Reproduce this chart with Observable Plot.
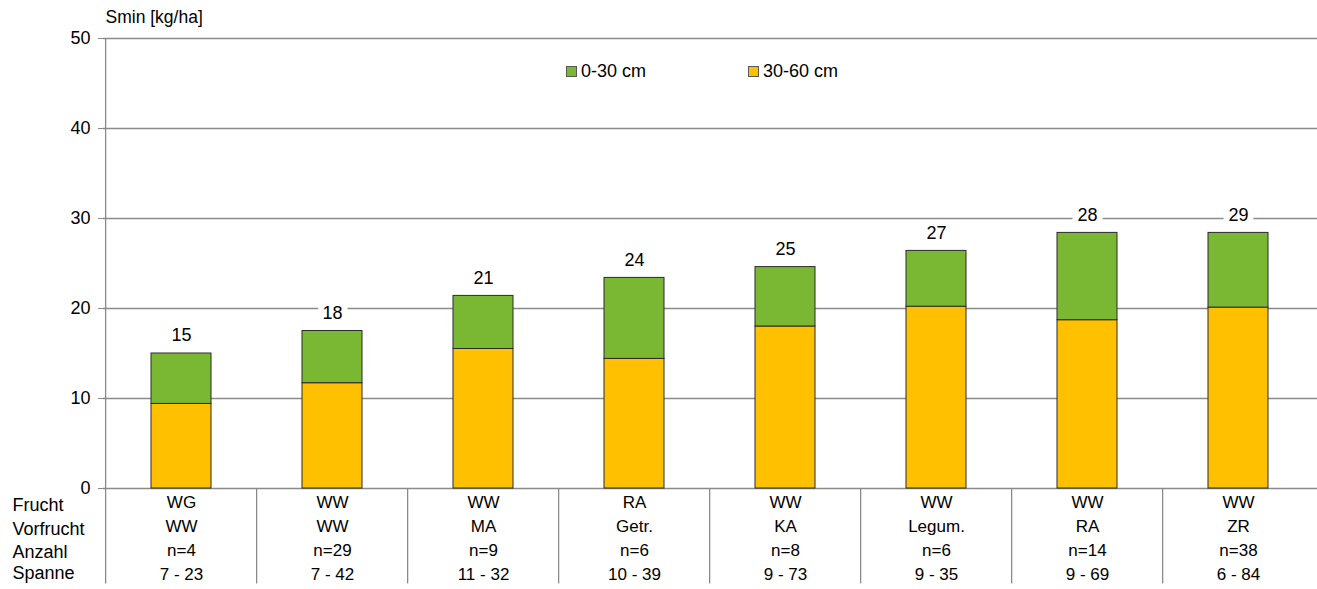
<!DOCTYPE html>
<html><head><meta charset="utf-8">
<script src="https://cdn.jsdelivr.net/npm/d3@7"></script>
<script src="https://cdn.jsdelivr.net/npm/@observablehq/plot@0.6"></script>
<style>
body{margin:0;background:#fff;font-family:"Liberation Sans",Arial,sans-serif;}
#wrap{position:relative;width:1317px;height:589px;overflow:hidden;}
.legend{position:absolute;top:62px;display:flex;align-items:center;font-size:18px;color:#000;line-height:18px;}
.sw{width:9px;height:9px;border:1px solid #595959;margin-right:4px;}
</style></head><body><div id="wrap"></div>
<script>
// categories (Frucht / Vorfrucht)
const categories = ["WG/WW","WW/WW","WW/MA","RA/Getr.","WW/KA","WW/Legum.","WW/RA","WW/ZR"];
const frucht = ["WG","WW","WW","RA","WW","WW","WW","WW"];
const vorfrucht = ["WW","WW","MA","Getr.","KA","Legum.","RA","ZR"];
const anzahl = ["n=4","n=29","n=9","n=6","n=8","n=6","n=14","n=38"];
const spanne = ["7 - 23","7 - 42","11 - 32","10 - 39","9 - 73","9 - 35","9 - 69","6 - 84"];
// series values (kg/ha)
const layer3060 = [9.4, 11.7, 15.5, 14.4, 18.0, 20.2, 18.7, 20.1];
const layer030 = [5.6, 5.8, 5.9, 9.0, 6.6, 6.2, 9.7, 8.3];
const totalLabels = ["15","18","21","24","25","27","28","29"];
const rowLabels = ["Frucht","Vorfrucht","Anzahl","Spanne"];
const yTicks = [0,10,20,30,40,50];
const seriesNames = ["0-30 cm","30-60 cm"];
const seriesColors = ["#7AB733","#FFC000"];
const yLabel = "Smin [kg/ha]";

const W=1317,H=589,ML=103,MR=0,MT=38,MB=101;
const step=(W-ML-MR)/categories.length;
const grid="#8a8a8a";
const long = categories.flatMap((c,i)=>[
  {cat:c,series:"30-60 cm",v:layer3060[i]},
  {cat:c,series:"0-30 cm",v:layer030[i]}]);
const totals = categories.map((c,i)=>({cat:c,total:layer3060[i]+layer030[i],label:totalLabels[i]}));
const font='"Liberation Sans", Arial, sans-serif';
const tableRows=[frucht,vorfrucht,anzahl,spanne];
const rowLabelDy=[22,46,69,90];

const marks=[
  Plot.gridY(yTicks,{stroke:grid,strokeOpacity:1,strokeWidth:1.3}),
  Plot.axisY(yTicks,{tickSize:5,tickPadding:8,stroke:grid,fill:"#000",fontSize:18,tickFormat:d=>String(d),label:null}),
  Plot.ruleX(categories,{x:d=>d,dx:-step/2,y1:-10.6,y2:(d,i)=>i===0?50:0,stroke:grid,strokeWidth:1.3}),
  Plot.barY(long,{x:"cat",y:"v",fill:"series",stroke:"#2b2b2b",strokeWidth:1}),
  Plot.text(totals,{x:"cat",y:"total",text:"label",dy:-18,fontSize:18,fill:"#000",stroke:"white",strokeWidth:12}),
  Plot.text([yLabel],{frameAnchor:"top-left",dx:2,dy:-28,fontSize:17.5,fill:"#000"}),
  ...tableRows.map((row,r)=>Plot.text(row,{x:(d,i)=>categories[i],text:d=>d,frameAnchor:"bottom",dy:19+24*r,fontSize:17,fill:"#000"})),
  ...rowLabels.map((t,r)=>Plot.text([t],{frameAnchor:"bottom-left",textAnchor:"start",dx:-91,dy:rowLabelDy[r],fontSize:18,fill:"#000"}))
];

const plot=Plot.plot({
  width:W,height:H,marginLeft:ML,marginRight:MR,marginTop:MT,marginBottom:MB,
  style:{fontFamily:font,fontSize:"18px",color:"#000",background:"#fff",overflow:"visible"},
  x:{domain:categories,paddingInner:0.6,paddingOuter:0.3,axis:null},
  y:{domain:[0,50],axis:null},
  color:{domain:seriesNames,range:seriesColors},
  marks
});
const wrap=document.getElementById("wrap");
wrap.appendChild(plot);
const legendX=[566,748];
seriesNames.forEach((s,i)=>{
  const d=document.createElement("div");
  d.className="legend";d.style.left=legendX[i]+"px";
  d.innerHTML=`<span class="sw" style="background:${seriesColors[i]}"></span><span>${s}</span>`;
  wrap.appendChild(d);
});
</script></body></html>
